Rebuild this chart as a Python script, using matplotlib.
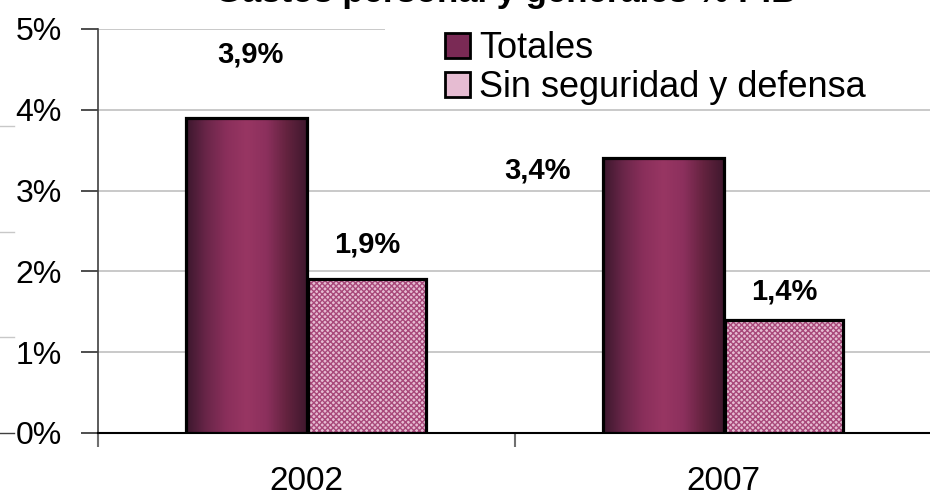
import numpy as np
import matplotlib
matplotlib.use("Agg")
import matplotlib.pyplot as plt
from matplotlib.patches import Patch, Rectangle
from matplotlib.colors import LinearSegmentedColormap
from matplotlib.lines import Line2D

years = ["2002", "2007"]
totales = [3.9, 3.4]
sin_seg = [1.9, 1.4]
lbl_totales = ["3,9%", "3,4%"]
lbl_sin = ["1,9%", "1,4%"]
yticks = [0, 1, 2, 3, 4, 5]
ytick_labels = ["0%", "1%", "2%", "3%", "4%", "5%"]

# label offsets (dx, dy) from top of each bar, in data units
off_totales = [(0.01, 0.78), (-0.30, -0.15)]
off_sin = [(0.0, 0.43), (0.0, 0.35)]

plt.rcParams['font.family'] = ['Liberation Sans', 'DejaVu Sans']

fig = plt.figure(figsize=(9.3, 5.04), dpi=100)
ax = fig.add_axes([98 / 930, 71 / 504, 834 / 930, 404 / 504])

x = np.arange(len(years))
w = 0.29
grad = LinearSegmentedColormap.from_list(
    "g", ["#3c172d", "#6a2649", "#8a2f5b", "#983663", "#8c305d", "#64233f", "#40182e"])
gimg = np.linspace(0, 1, 200).reshape(1, -1)

for i in range(len(years)):
    x0 = x[i] - w
    bar = plt.Rectangle((x0, 0), w, totales[i], facecolor="none",
                        edgecolor="black", linewidth=2.3, zorder=4)
    ax.add_patch(bar)
    im = ax.imshow(gimg, cmap=grad, extent=(x0, x0 + w, 0, totales[i]),
                   aspect="auto", zorder=3, interpolation="bilinear")
    im.set_clip_path(bar)

ax.bar(x + w / 2, sin_seg, w * 0.97, color="#e6bcd2", edgecolor="#a8487a",
       hatch="xxxxxx", linewidth=0, zorder=3)
ax.bar(x + w / 2, sin_seg, w * 0.97, color="none", edgecolor="black",
       linewidth=2.3, zorder=4)

for i in range(len(years)):
    ax.text(x[i] - w / 2 + off_totales[i][0], totales[i] + off_totales[i][1],
            lbl_totales[i], ha="center", va="center", fontsize=21, fontweight="bold")
    ax.text(x[i] + w / 2 + off_sin[i][0], sin_seg[i] + off_sin[i][1],
            lbl_sin[i], ha="center", va="center", fontsize=21, fontweight="bold")

ax.set_xlim(-0.5, 1.5)
ax.set_ylim(0, 5)
ax.set_yticks(yticks)
ax.set_yticklabels(ytick_labels, fontsize=23)
ax.yaxis.grid(True, color="#c0c0c0", linewidth=1.2)
ax.set_axisbelow(True)

ax.set_xticks([-0.5, 0.5, 1.5])
ax.set_xticklabels([])
ax.set_xticks(x, minor=True)
ax.set_xticklabels(years, minor=True, fontsize=24)
ax.tick_params(axis="x", which="major", length=10, color="#707070", width=1.5, direction="out")
ax.tick_params(axis="x", which="minor", length=0, pad=24)
ax.tick_params(axis="y", length=12, color="#303030", width=1.2, pad=14)

for s in ["top", "right"]:
    ax.spines[s].set_visible(False)
ax.spines["left"].set_color("#404040")
ax.spines["left"].set_linewidth(1.2)
ax.spines["bottom"].set_color("black")
ax.spines["bottom"].set_linewidth(1.5)

# white legend area hiding the top gridline
fig.add_artist(Rectangle((385 / 930, 1 - 104 / 504), 545 / 930, 84 / 504,
                         facecolor="white", edgecolor="none", zorder=5))

handles = [Patch(facecolor="#7a2a55", edgecolor="black", linewidth=2),
           Patch(facecolor="#e6bcd2", edgecolor="black", linewidth=2)]
leg = fig.legend(handles, ["Totales", "Sin seguridad y defensa"],
                 loc="upper left", bbox_to_anchor=(445 / 930, 1 - 31 / 504),
                 fontsize=26, frameon=False,
                 handlelength=0.7, handleheight=0.7, handletextpad=0.25,
                 labelspacing=0.12, borderpad=0, borderaxespad=0)
leg.set_zorder(6)

fig.text(0.544, 1 - 2 / 504, "Gastos personal y generales % PIB", ha="center",
         va="baseline", fontsize=25, fontweight="bold")

# stray gridline fragments at the left edge
for yy, c in [(126, "#c8c8c8"), (232, "#c8c8c8"), (337, "#c8c8c8"), (433, "#404040")]:
    fig.add_artist(Line2D([0, 14 / 930], [1 - yy / 504] * 2, color=c, linewidth=1))

fig.savefig("out.png", dpi=100)
